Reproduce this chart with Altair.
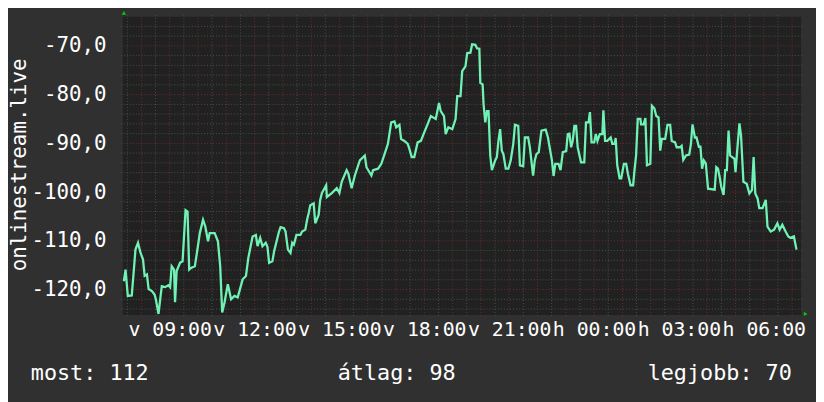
import altair as alt
import pandas as pd

# time in hours since Sunday 00:00 (values >= 24 are Monday)
hours = [7.379, 7.439, 7.519, 7.659, 7.729, 7.789, 7.880, 7.964, 8.055, 8.114,
         8.195, 8.254, 8.370, 8.464, 8.510, 8.604, 8.664, 8.720, 8.839, 8.954,
         9.014, 9.070, 9.154, 9.189, 9.245, 9.364, 9.455, 9.560, 9.630, 9.689,
         9.770, 9.889, 9.969, 10.064, 10.179, 10.260, 10.354, 10.414, 10.589, 10.704,
         10.785, 10.855, 10.939, 11.054, 11.170, 11.289, 11.404, 11.579, 11.695, 11.779,
         11.930, 12.045, 12.105, 12.199, 12.280, 12.395, 12.455, 12.514, 12.630, 12.689,
         12.864, 12.920, 13.039, 13.095, 13.179, 13.270, 13.330, 13.389, 13.480, 13.620,
         13.680, 13.795, 13.855, 13.914, 13.970, 14.089, 14.145, 14.264, 14.320, 14.380,
         14.530, 14.555, 14.730, 14.905, 14.999, 15.080, 15.255, 15.314, 15.430, 15.545,
         15.720, 15.895, 15.955, 16.130, 16.189, 16.364, 16.480, 16.595, 16.714, 16.830,
         16.945, 17.005, 17.120, 17.180, 17.295, 17.414, 17.470, 17.554, 17.645, 17.764,
         17.880, 17.995, 18.114, 18.230, 18.405, 18.520, 18.580, 18.695, 18.755, 18.849,
         18.989, 19.105, 19.164, 19.280, 19.339, 19.455, 19.514, 19.630, 19.689, 19.805,
         19.864, 19.945, 19.980, 20.061, 20.095, 20.155, 20.214, 20.270, 20.330, 20.389,
         20.505, 20.564, 20.620, 20.680, 20.739, 20.795, 20.879, 20.970, 21.054, 21.145,
         21.205, 21.320, 21.380, 21.495, 21.555, 21.670, 21.730, 21.846, 21.905, 21.965,
         22.045, 22.140, 22.290, 22.371, 22.430, 22.511, 22.570, 22.630, 22.745, 22.815,
         22.896, 23.015, 23.071, 23.130, 23.190, 23.246, 23.305, 23.365, 23.421, 23.540,
         23.655, 23.715, 23.806, 23.855, 23.911, 24.005, 24.064, 24.120, 24.204, 24.295,
         24.330, 24.390, 24.470, 24.589, 24.645, 24.729, 24.764, 24.821, 24.905, 24.961,
         25.055, 25.136, 25.195, 25.290, 25.381, 25.430, 25.486, 25.545, 25.640, 25.661,
         25.755, 25.815, 25.871, 25.990, 26.046, 26.130, 26.200, 26.280, 26.340, 26.396,
         26.515, 26.595, 26.690, 26.746, 26.865, 26.921, 27.040, 27.096, 27.155, 27.250,
         27.365, 27.425, 27.481, 27.565, 27.621, 27.705, 27.761, 27.820, 27.880, 27.950,
         28.030, 28.265, 28.321, 28.380, 28.440, 28.496, 28.580, 28.636, 28.695, 28.755,
         28.811, 28.965, 29.000, 29.056, 29.140, 29.196, 29.280, 29.396, 29.490, 29.581,
         29.641, 29.700, 29.781, 29.840, 29.956, 30.071, 30.131, 30.246, 30.365, 30.481,
         30.561, 30.656, 30.771, 30.866, 30.946, 31.065, 31.156]

values = [-118.3, -115.9, -121.3, -121.2, -116.2, -111.8, -110.4, -112.4, -113.8, -117.2,
          -116.9, -119.9, -120.3, -121.0, -122.0, -125.0, -122.0, -119.3, -119.5, -119.1,
          -119.5, -115.2, -115.9, -122.6, -116.2, -114.5, -114.2, -103.7, -104.0, -115.9,
          -115.5, -115.2, -112.2, -108.4, -105.7, -107.1, -110.1, -108.4, -108.4, -110.1,
          -115.2, -124.7, -122.6, -118.9, -122.0, -121.3, -121.6, -117.9, -117.2, -113.5,
          -109.1, -108.8, -111.1, -109.4, -111.1, -110.4, -111.2, -114.5, -114.2, -112.2,
          -108.1, -107.2, -107.4, -108.1, -111.8, -112.5, -110.4, -110.8, -108.8, -108.8,
          -108.1, -107.7, -105.7, -104.3, -102.7, -102.3, -106.4, -104.7, -101.6, -100.2,
          -98.6, -101.0, -100.2, -99.2, -100.2, -97.9, -95.5, -96.2, -99.2, -96.6,
          -93.5, -92.5, -94.9, -96.6, -95.5, -95.2, -94.2, -92.2, -90.1, -85.7,
          -85.5, -86.7, -86.2, -89.1, -89.5, -90.1, -91.1, -92.8, -92.8, -89.8,
          -89.5, -87.8, -86.1, -84.4, -85.0, -81.7, -83.4, -84.4, -88.1, -86.7,
          -87.1, -85.0, -80.3, -80.3, -75.2, -74.2, -71.5, -71.4, -69.7, -69.8,
          -70.5, -70.6, -77.6, -77.9, -82.0, -85.7, -83.4, -83.4, -92.5, -95.5,
          -93.5, -92.8, -89.5, -87.1, -91.5, -92.2, -95.2, -95.2, -93.5, -90.1,
          -86.2, -86.4, -94.5, -94.7, -88.8, -88.8, -90.8, -96.6, -93.5, -92.2,
          -91.8, -87.4, -87.2, -88.8, -90.8, -93.5, -96.7, -94.2, -94.2, -95.5,
          -91.8, -91.6, -88.1, -88.0, -90.8, -89.5, -86.4, -86.4, -90.8, -93.9,
          -93.9, -85.7, -85.7, -83.6, -89.8, -89.8, -88.1, -89.5, -88.1, -88.1,
          -83.2, -89.5, -89.5, -88.8, -90.1, -90.1, -88.9, -94.5, -97.2, -97.2,
          -94.2, -94.2, -96.2, -98.6, -98.6, -95.5, -92.5, -85.0, -85.0, -86.1,
          -86.1, -84.8, -94.5, -94.2, -82.3, -82.8, -84.4, -84.7, -91.5, -89.1,
          -89.1, -86.2, -86.2, -89.5, -89.8, -90.8, -90.8, -90.5, -93.4, -92.5,
          -92.3, -90.1, -86.1, -88.8, -88.8, -90.7, -90.7, -95.2, -93.5, -94.1,
          -99.3, -99.5, -94.9, -95.2, -96.9, -98.9, -100.6, -95.5, -95.5, -87.4,
          -92.5, -93.2, -95.9, -91.8, -85.9, -88.4, -97.9, -98.3, -100.3, -99.6,
          -92.8, -100.3, -101.3, -103.3, -103.3, -101.6, -107.1, -108.1, -107.7, -106.4,
          -107.7, -106.7, -108.1, -109.1, -109.4, -109.1, -111.8]

x_domain = [7.344, 31.321]
y_domain = [-125.2, -64.05]
x_label_hours = [9, 12, 15, 18, 21, 24, 27, 30]
y_label_values = [-120, -110, -100, -90, -80, -70]
y_title = "onlinestream.live"
legend_texts = ["most: 112", "átlag: 98", "legjobb: 70"]

FONT = "DejaVu Sans Mono"
W, H = 685, 301
BG = "#303030"
PLOT_BG = "#212121"
MINOR = "#4e4e4e"
MAJOR = "#6a3030"
LINE = "#6ff2b4"

df = pd.DataFrame({"h": hours, "v": values})

xs = alt.Scale(domain=x_domain, nice=False, zero=False)
ys = alt.Scale(domain=y_domain, nice=False, zero=False)

x_axis = alt.Axis(
    values=x_label_hours,
    labelExpr="(datum.value < 24 ? 'v ' : 'h ') + (datum.value % 24 < 10 ? '0' : '') + (datum.value % 24) + ':00'",
    title=None,
    labelFontSize=20,
    labelBaseline="alphabetic",
    labelPadding=21,
    labelOverlap=False,
    labelFlush=False,
    labelBound=False,
)
y_axis = alt.Axis(
    values=y_label_values,
    labelExpr="'-' + replace(format(abs(datum.value), '.1f'), '.', ',')",
    title=y_title,
    titleX=-98,
    titleY=149,
    titleAngle=-90,
    titleAlign="center",
    titleBaseline="alphabetic",
    titleFontSize=21,
    labelFontSize=21,
    labelPadding=17,
    labelBaseline="middle",
    labelOverlap=False,
)

line = alt.Chart(df).mark_line(color=LINE, strokeWidth=2.3, interpolate="linear").encode(
    x=alt.X("h:Q", scale=xs, axis=x_axis, title=None),
    y=alt.Y("v:Q", scale=ys, axis=y_axis, title=y_title),
)

minor_x = alt.Chart(alt.sequence(7.5, 31.4, 1, as_="h")).mark_rule(
    color=MINOR, strokeDash=[1, 2], strokeWidth=1
).encode(x=alt.X("h:Q", scale=xs, axis=x_axis, title=None), y=alt.value(-2), y2=alt.value(H + 2))

major_x = alt.Chart(alt.sequence(8, 32, 1, as_="h")).mark_rule(
    color=MAJOR, strokeDash=[1, 2], strokeWidth=1
).encode(x=alt.X("h:Q", scale=xs, axis=x_axis, title=None), y=alt.value(-2), y2=alt.value(H + 2))

minor_y = alt.Chart(alt.sequence(-124, -64, 2, as_="v")).transform_filter(
    "datum.v % 10 != 0"
).mark_rule(color=MINOR, strokeDash=[1, 2], strokeWidth=1).encode(
    y=alt.Y("v:Q", scale=ys, axis=y_axis, title=y_title), x=alt.value(-2), x2=alt.value(W + 3)
)

major_y = alt.Chart(alt.sequence(-120, -60, 10, as_="v")).mark_rule(
    color=MAJOR, strokeDash=[1, 2], strokeWidth=1
).encode(y=alt.Y("v:Q", scale=ys, axis=y_axis, title=y_title), x=alt.value(-2), x2=alt.value(W + 3))

def legend_text(label, xpos):
    return alt.Chart(pd.DataFrame({"t": [label]})).mark_text(
        font=FONT, fontSize=22, color="#ffffff", align="left", baseline="alphabetic"
    ).encode(text="t:N", x=alt.value(xpos), y=alt.value(367))

legend_layers = [legend_text(legend_texts[0], -93),
                 legend_text(legend_texts[1], 217),
                 legend_text(legend_texts[2], 530)]

arrow_up = alt.Chart(pd.DataFrame({"a": [0]})).mark_point(
    shape="triangle-up", filled=True, color="#00d000", size=18, opacity=1
).encode(x=alt.value(1), y=alt.value(-4))
arrow_right = alt.Chart(pd.DataFrame({"a": [0]})).mark_point(
    shape="triangle-right", filled=True, color="#00d000", size=18, opacity=1
).encode(x=alt.value(689.5), y=alt.value(300))

chart = alt.layer(
    minor_x, minor_y, major_x, major_y, line, *legend_layers, arrow_up, arrow_right
).properties(
    width=W,
    height=H,
    autosize=alt.AutoSizeParams(type="none"),
    padding={"left": 116, "top": 7, "right": 15, "bottom": 86},
    background=BG,
).configure_view(
    fill=PLOT_BG, stroke=None
).configure_axis(
    domain=False,
    ticks=False,
    grid=False,
    labelFont=FONT,
    labelColor="#ffffff",
    titleFont=FONT,
    titleColor="#ffffff",
    titleFontWeight="normal",
)

chart.save("out.html", embed_options={"renderer": "svg", "actions": False})
